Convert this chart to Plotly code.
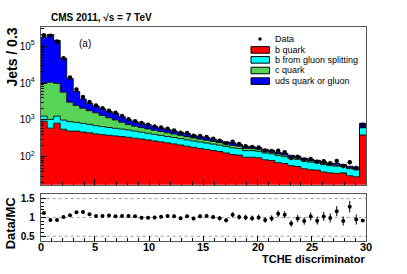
import numpy as np
import plotly.graph_objects as go

# ---------------- data ----------------
bin_edges = [round(0.6 * i, 1) for i in range(51)]          # 0 ... 30, bins of 0.6
b_quark = [930, 600, 820, 560, 500, 500, 470, 450, 420, 400,
           385, 370, 355, 340, 322, 305, 288, 270, 255, 240,
           225, 210, 195, 182, 170, 160, 150, 140, 128, 116,
           112, 98, 98, 95, 84, 80, 70, 66, 58, 55,
           48, 45, 44, 39, 37, 36, 37, 31, 29, 390]
b_gluon_split = [340, 440, 450, 430, 400, 360, 340, 310, 280, 260,
                 240, 225, 210, 195, 178, 162, 150, 138, 128, 118,
                 110, 102, 95, 88, 82, 77, 72, 68, 64, 60,
                 57, 50, 50, 47, 44, 41, 38, 35, 33, 31,
                 29, 27, 25, 23, 21, 20, 18, 17, 16, 225]
c_quark = [8730, 9460, 8530, 4660, 2130, 1600, 1270, 1020, 860, 660,
           525, 405, 305, 215, 180, 155, 135, 118, 104, 92,
           82, 72, 64, 57, 51, 46, 41, 37, 33, 29,
           26, 23, 21, 19, 16, 14, 12, 11, 9, 8,
           7, 6, 5, 5, 4, 4, 3, 3, 3, 12]
uds_gluon = [164100, 193800, 132100, 40850, 10170, 3420, 1600, 1040, 820, 680,
             550, 515, 360, 260, 220, 208, 172, 144, 123, 105,
             88, 76, 76, 58, 57, 52, 42, 35, 30, 35,
             25, 22, 20, 18, 16, 14, 13, 12, 11, 10,
             9, 8, 7, 7, 6, 6, 5, 5, 5, 183]
data_counts = [195000, 190000, 132000, 47000, 14000, 6700, 4200, 3050, 2475, 2080,
               1785, 1560, 1280, 1050, 927, 822, 738, 670, 622, 577,
               520, 451, 443, 373, 371, 348, 308, 274, 235, 257,
               222, 193, 185, 179, 149, 145, 146, 133, 93, 101,
               84, 88, 74, 76, 67, 77, 57, 72, 50, 745]

y_main_ticks = [1e2, 1e3, 1e4, 1e5]
y_main_ticktext = ["10<sup>2</sup>", "10<sup>3</sup>", "10<sup>4</sup>", "10<sup>5</sup>"]
x_ticks = [0, 5, 10, 15, 20, 25, 30]
x_ticktext = ["0", "5", "10", "15", "20", "25", "30"]
ratio_ticks = [0.5, 1.0, 1.5]
ratio_ticktext = ["0.5", "1", "1.5"]

# ---------------- derived ----------------
edges = np.array(bin_edges)
centers = 0.5 * (edges[:-1] + edges[1:])
comps = [("b quark", np.array(b_quark, float), "#FF0000"),
         ("b from gluon splitting", np.array(b_gluon_split, float), "#00FFFF"),
         ("c quark", np.array(c_quark, float), "#57D457"),
         ("uds quark or gluon", np.array(uds_gluon, float), "#0000FF")]
data = np.array(data_counts, float)
mc_total = sum(c[1] for c in comps)
ratio = data / mc_total
ratio_err = np.sqrt(data) / mc_total

W, H = 407, 274
def px(x): return x / W
def py(y): return 1 - y / H

FONT = "Liberation Sans, Arial, Helvetica, sans-serif"

fig = go.Figure()

def step(v):
    return list(v) + [v[-1]]

# baseline for the first fill
fig.add_trace(go.Scatter(x=edges, y=[1.0] * len(edges), mode="lines",
                         line=dict(width=0, shape="hv"), showlegend=False,
                         hoverinfo="skip", xaxis="x", yaxis="y"))
cum = np.zeros(len(centers))
for name, vals, col in comps:
    cum = cum + vals
    fig.add_trace(go.Scatter(x=edges, y=step(cum), mode="lines", name=name,
                             line=dict(color="rgba(0,0,0,0.85)", width=1, shape="hv"),
                             fill="tonexty", fillcolor=col, showlegend=False,
                             xaxis="x", yaxis="y"))

fig.add_trace(go.Scatter(x=centers, y=data, mode="markers", name="Data",
                         marker=dict(color="black", size=4.5),
                         error_y=dict(type="data", array=np.sqrt(data), width=0,
                                      thickness=1, color="black"),
                         showlegend=False, xaxis="x", yaxis="y"))

fig.add_trace(go.Scatter(x=centers, y=ratio, mode="markers", name="Data/MC",
                         marker=dict(color="black", size=4),
                         error_y=dict(type="data", array=ratio_err, width=0,
                                      thickness=1, color="black"),
                         showlegend=False, xaxis="x2", yaxis="y2"))

x0p, x1p = px(40.7), px(366)
frame = dict(showline=True, linecolor="#555555", linewidth=1, mirror=True)

minor_log = [m * 10 ** e for e in range(1, 6) for m in range(2, 10)]

fig.update_layout(
    width=W, height=H, autosize=False,
    margin=dict(l=0, r=0, t=0, b=0),
    paper_bgcolor="white", plot_bgcolor="rgba(0,0,0,0)",
    font=dict(family=FONT, color="black"),
    showlegend=False,
    xaxis=dict(domain=[x0p, x1p], anchor="y", range=[0, 30], showticklabels=False,
               ticks="inside", ticklen=6, tickvals=x_ticks, tickcolor="black",
               minor=dict(ticks="inside", ticklen=3, dtick=1, tickcolor="black"),
               showgrid=False, zeroline=False, **frame),
    yaxis=dict(domain=[py(185), py(26)], anchor="x", type="log", range=[1.25, 5.52],
               tickvals=y_main_ticks, ticktext=y_main_ticktext, ticks="inside",
               ticklen=6, tickcolor="black",
               minor=dict(ticks="inside", ticklen=3, tickvals=minor_log, tickcolor="black"),
               tickfont=dict(size=10, family=FONT), ticklabelstandoff=3,
               showgrid=False, zeroline=False, **frame),
    xaxis2=dict(domain=[x0p, x1p], anchor="y2", range=[0, 30], tickvals=x_ticks,
                showticklabels=False,
                ticks="inside", ticklen=5, tickcolor="black",
                minor=dict(ticks="inside", ticklen=3, dtick=1, tickcolor="black"),
                showgrid=False, zeroline=False, **frame),
    yaxis2=dict(domain=[py(241.5), py(194.5)], anchor="x2", range=[0.38, 1.62],
                tickvals=ratio_ticks, ticktext=ratio_ticktext, ticks="inside",
                ticklen=5, tickcolor="black",
                minor=dict(ticks="inside", ticklen=3, dtick=0.1, tickcolor="black"),
                tickfont=dict(size=10, family=FONT, weight="bold"), ticklabelstandoff=3,
                showgrid=False, zeroline=False, **frame),
)

# dotted reference lines in the ratio panel
for yv in ratio_ticks:
    fig.add_shape(type="line", xref="x2", yref="y2", x0=0, x1=30, y0=yv, y1=yv,
                  line=dict(color="#999999", width=1, dash="dot"), layer="below")

P = dict(xref="paper", yref="paper", showarrow=False)
ann = []
ann.append(dict(text="CMS 2011, \u221as = 7 TeV", x=px(49), y=py(17), xanchor="left",
                yanchor="middle", font=dict(size=10, weight="bold"), **P))
ann.append(dict(text="Jets / 0.3", x=px(12), y=py(57), textangle=-90, xanchor="center",
                yanchor="middle", font=dict(size=14, weight="bold"), **P))
ann.append(dict(text="Data/MC", x=px(10), y=py(224), textangle=-90, xanchor="center",
                yanchor="middle", font=dict(size=13, weight="bold"), **P))
ann.append(dict(text="TCHE discriminator", x=px(367), y=py(259.5), xanchor="right",
                yanchor="middle", font=dict(size=11, weight="bold"), **P))
ann.append(dict(text="(a)", x=px(85), y=py(43), xanchor="center", yanchor="middle",
                font=dict(size=10), **P))
# x tick labels of the ratio panel
for v, t in zip(x_ticks, x_ticktext):
    ann.append(dict(text=t, x=v, xref="x2", y=py(247.5), yref="paper", showarrow=False,
                    xanchor="center", yanchor="middle",
                    font=dict(size=11, weight="bold")))

# manual legend
leg_y = [38.3, 49.3, 59.3, 70.0, 80.7]
fig.add_shape(type="circle", xref="paper", yref="paper", x0=px(258.3), x1=px(261.7),
              y0=py(leg_y[0] + 1.7), y1=py(leg_y[0] - 1.7), fillcolor="black",
              line=dict(color="black", width=0))
ann.append(dict(text="Data", x=px(273), y=py(leg_y[0]), xanchor="left", yanchor="middle",
                font=dict(size=9), **P))
for (name, vals, col), yc in zip(comps, leg_y[1:]):
    fig.add_shape(type="rect", xref="paper", yref="paper", x0=px(251), x1=px(269.5),
                  y0=py(yc + 3.3), y1=py(yc - 3.3), fillcolor=col,
                  line=dict(color="black", width=1))
    ann.append(dict(text=name, x=px(273), y=py(yc), xanchor="left", yanchor="middle",
                    font=dict(size=9), **P))
fig.update_layout(annotations=ann)

fig.write_html("out.html",
               config={"displayModeBar": False},
               post_script="document.body.style.margin='0px';"
                           "document.body.style.padding='0px';"
                           "document.body.style.overflow='hidden';")
